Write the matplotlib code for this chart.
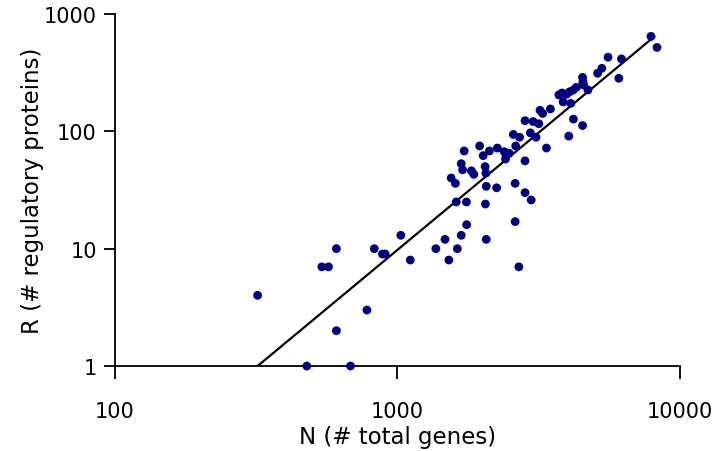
import matplotlib
matplotlib.use("Agg")
import matplotlib.pyplot as plt

# N = total genes, R = regulatory proteins
genes = [320, 478, 682, 608, 780, 540, 570, 608, 828, 885, 905, 1028, 1110,
         1367, 1473, 1520, 1629, 1681, 1757, 1614, 1754, 2061, 2047, 2061,
         2243, 2608, 2688, 2608, 2827, 2972, 2827, 3366, 1549, 1603, 1681,
         1700, 1722, 1827, 1863, 1953, 2010, 2042, 2055, 2115, 2256, 2388,
         2425, 2411, 2485, 2620, 2570, 2704, 2952, 3092, 2827, 3020, 3163,
         3194, 3264, 3476, 3724, 3819, 3855, 3965, 4064, 4103, 4192, 4296,
         4516, 4530, 4560, 4721, 4192, 4516, 4036, 5106, 5285, 5558, 6200,
         6070, 7887, 8285]
regulators = [4, 1, 1, 2, 3, 7, 7, 10, 10, 9, 9, 13, 8,
              10, 12, 8, 10, 13, 16, 25, 25, 12, 24, 34,
              33, 17, 7, 36, 30, 26, 56, 72, 40, 36, 53,
              47, 68, 46, 43, 75, 62, 50, 44, 68, 72, 67,
              62, 58, 65, 75, 94, 89, 97, 89, 123, 121, 116,
              151, 142, 155, 204, 212, 178, 207, 217, 173, 225, 237,
              288, 265, 248, 225, 127, 112, 91, 312, 344, 428, 414,
              283, 644, 518]

# fitted power law, end points
fit_genes = [320, 8100]
fit_regulators = [1, 640]

fig = plt.figure(figsize=(7.22, 4.52), dpi=100)
ax = fig.add_axes([0.159, 0.188, 0.783, 0.779])

ax.plot(fit_genes, fit_regulators, color="black", lw=1.6, zorder=2)
ax.scatter(genes, regulators, s=40, color="#000080", edgecolors="none",
           zorder=3, clip_on=False)

ax.set_xscale("log")
ax.set_yscale("log")
ax.set_xlim(100, 10000)
ax.set_ylim(1, 1000)
ax.set_xticks([100, 1000, 10000])
ax.set_xticklabels(["100", "1000", "10000"])
ax.set_yticks([1, 10, 100, 1000])
ax.set_yticklabels(["1", "10", "100", "1000"])
ax.minorticks_off()

for s in ["top", "right"]:
    ax.spines[s].set_visible(False)
for s in ["left", "bottom"]:
    ax.spines[s].set_linewidth(1.3)

ax.tick_params(axis="x", direction="out", length=9, width=1.3, pad=16,
               labelsize=15)
ax.tick_params(axis="y", direction="out", length=8, width=1.3, pad=5,
               labelsize=15)

ax.set_xlabel("N (# total genes)", fontsize=16.5, labelpad=3)
ax.set_ylabel("R (# regulatory proteins)", fontsize=16.5, labelpad=0)

fig.savefig("out.png", dpi=100)
